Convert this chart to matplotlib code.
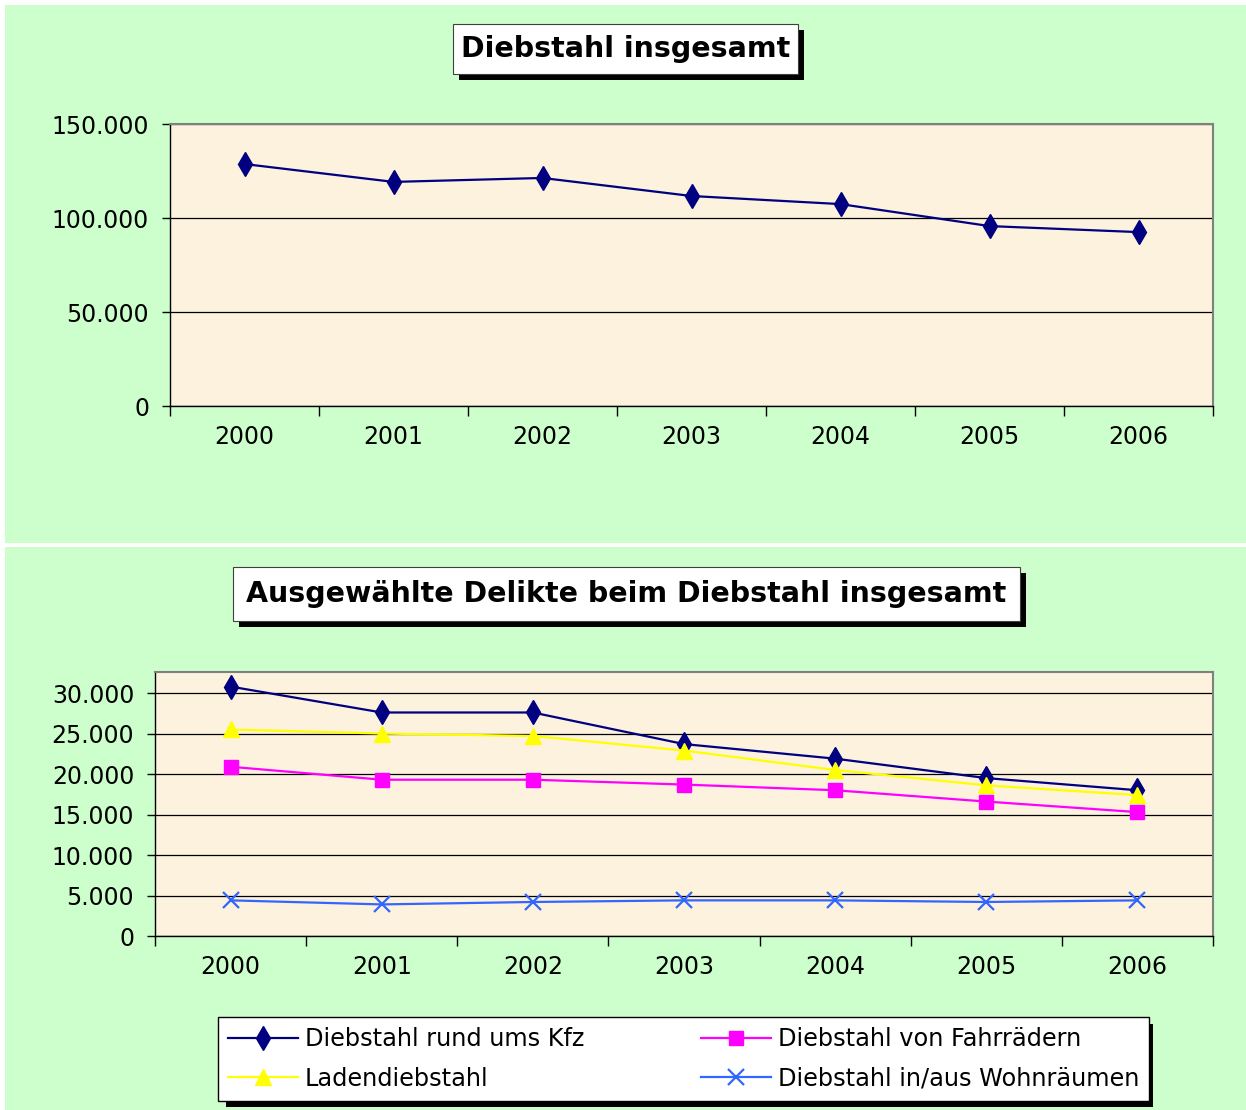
import numpy as np
import matplotlib
matplotlib.use('Agg')
import matplotlib.pyplot as plt
from matplotlib.patches import Rectangle
from matplotlib.ticker import FuncFormatter, FixedLocator

# Daten
jahre = ['2000', '2001', '2002', '2003', '2004', '2005', '2006']
diebstahl_gesamt = [128700, 119200, 121300, 111700, 107400, 95700, 92500]

kfz = [30800, 27600, 27600, 23700, 21900, 19500, 18000]
laden = [25500, 25000, 24700, 22900, 20500, 18600, 17400]
fahrrad = [20900, 19300, 19300, 18700, 18000, 16600, 15300]
wohnraum = [4400, 3900, 4200, 4400, 4400, 4200, 4400]

W, H = 1246, 1110
fig = plt.figure(figsize=(W / 100, H / 100), dpi=100, facecolor='white')
plt.rcParams['font.family'] = 'DejaVu Sans'


def px_rect(x0, y0, x1, y1, **kw):
    # Rechteck in Pixelkoordinaten (y von oben)
    r = Rectangle((x0 / W, 1 - y1 / H), (x1 - x0) / W, (y1 - y0) / H,
                  transform=fig.transFigure, **kw)
    fig.add_artist(r)
    return r


def title_box(x0, y0, x1, y1, text, size):
    px_rect(x0 + 6, y0 + 6, x1 + 6, y1 + 6, facecolor='black', edgecolor='none', zorder=1)
    px_rect(x0, y0, x1, y1, facecolor='white', edgecolor='#404040', lw=0.8, zorder=2)
    fig.text((x0 + x1) / 2 / W, 1 - (y0 + y1) / 2 / H, text, ha='center', va='center',
             fontsize=size, fontweight='bold', zorder=3)


# Hintergrund der beiden Diagrammbereiche
px_rect(5, 5, W, 543, facecolor='#CCFFCC', edgecolor='none', zorder=-2)
px_rect(5, 547, W, H, facecolor='#CCFFCC', edgecolor='none', zorder=-2)

fmt = FuncFormatter(lambda v, p: f'{int(v):,}'.replace(',', '.'))


def style_axes(ax, ymax, ystep):
    ax.set_facecolor('#FCF2DD')
    n = len(jahre)
    ax.set_xlim(0, n)
    ax.set_ylim(0, ymax)
    ax.xaxis.set_major_locator(FixedLocator(np.arange(n + 1)))
    ax.xaxis.set_minor_locator(FixedLocator(np.arange(n) + 0.5))
    ax.set_xticklabels([], minor=False)
    ax.set_xticklabels(jahre, minor=True)
    ax.tick_params(axis='x', which='major', length=7, width=1, direction='out', color='black')
    ax.tick_params(axis='x', which='minor', length=0, pad=14, labelsize=17)
    ax.set_yticks(np.arange(0, ymax + 1, ystep))
    ax.yaxis.set_major_formatter(fmt)
    ax.tick_params(axis='y', length=6, width=1, direction='out', pad=9, labelsize=17)
    ax.yaxis.grid(True, color='black', lw=0.9)
    ax.set_axisbelow(True)
    for s in ['top', 'right']:
        ax.spines[s].set_color('#808080')
        ax.spines[s].set_linewidth(1.5)
    for s in ['left', 'bottom']:
        ax.spines[s].set_color('black')
        ax.spines[s].set_linewidth(1)


x = np.arange(len(jahre)) + 0.5

# Oberes Diagramm
ax1 = fig.add_axes([170 / W, 1 - 406 / H, (1213 - 170) / W, (406 - 124) / H])
style_axes(ax1, 150000, 50000)
ax1.plot(x, diebstahl_gesamt, color='#000080', lw=1.6, marker='d', ms=12, mec='#000080')
title_box(453, 24, 798, 74, 'Diebstahl insgesamt', 20.5)

# Unteres Diagramm
ax2 = fig.add_axes([155 / W, 1 - 936 / H, (1213 - 155) / W, (936 - 672) / H])
style_axes(ax2, 32600, 5000)
ax2.plot(x, kfz, color='#000080', lw=1.6, marker='d', ms=12, label='Diebstahl rund ums Kfz')
ax2.plot(x, laden, color='#FFFF00', lw=1.6, marker='^', ms=12, label='Ladendiebstahl')
ax2.plot(x, fahrrad, color='#FF00FF', lw=1.6, marker='s', ms=10, label='Diebstahl von Fahrrädern')
ax2.plot(x, wohnraum, color='#3366FF', lw=1.6, marker='x', ms=12, mew=1.6,
         label='Diebstahl in/aus Wohnräumen')
title_box(233, 567, 1020, 621, 'Ausgewählte Delikte beim Diebstahl insgesamt', 20.5)

# Legende mit Schatten
px_rect(226, 1024, 1153, 1107, facecolor='black', edgecolor='none', zorder=1)
handles, labels = ax2.get_legend_handles_labels()
leg = fig.legend(handles, labels, ncol=2, loc='upper left',
                 bbox_to_anchor=(218 / W, 1 - 1017 / H),
                 fontsize=17.3, frameon=True, fancybox=False, framealpha=1,
                 edgecolor='black', handlelength=2.9, handletextpad=0.3,
                 columnspacing=4.85, borderaxespad=0, borderpad=0.42,
                 labelspacing=0.65)
leg.get_frame().set_linewidth(1)
leg.set_zorder(5)

fig.savefig('out.png', dpi=100, facecolor='white')
